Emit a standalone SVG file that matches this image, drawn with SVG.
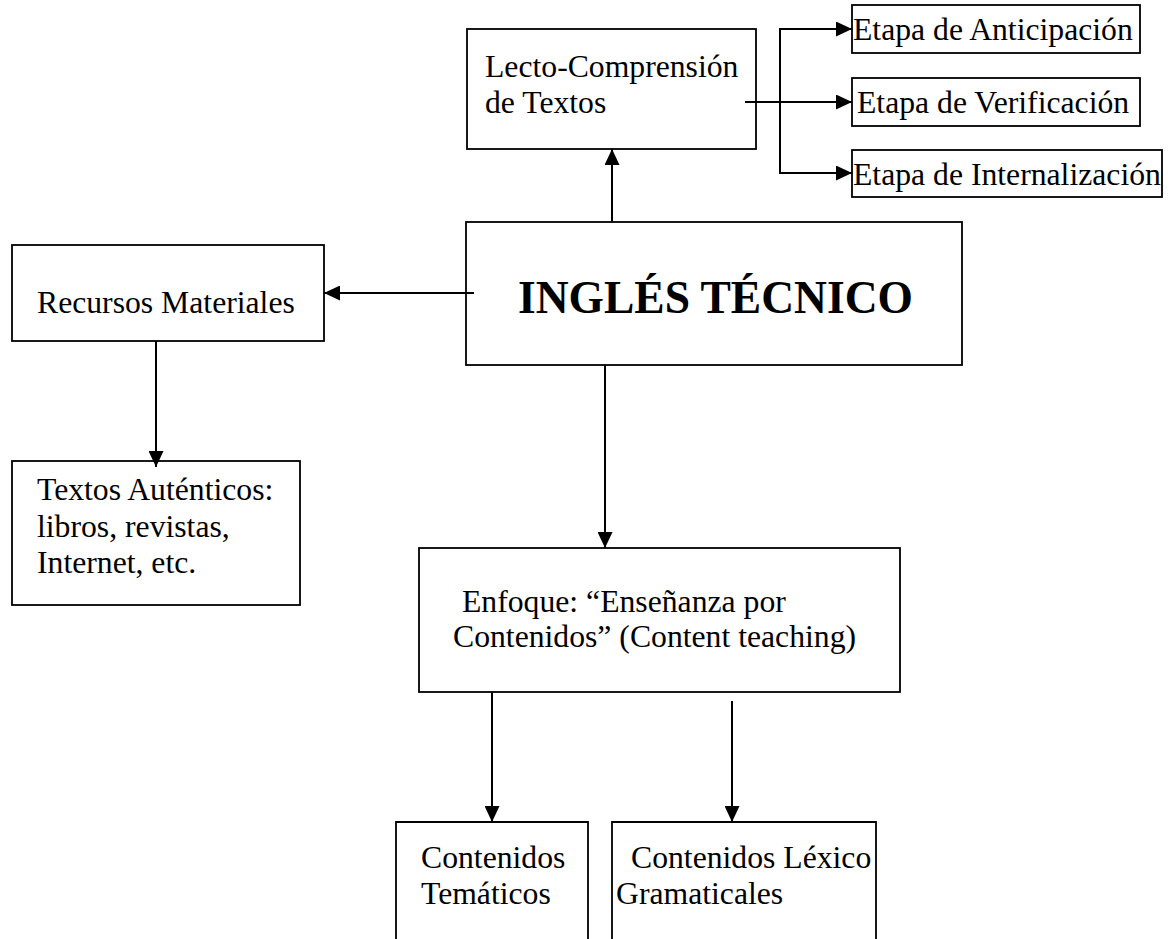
<svg xmlns="http://www.w3.org/2000/svg" width="1170" height="939" viewBox="0 0 1170 939">
<style>
.box{fill:#fff;stroke:#000;stroke-width:1.8}
.open{fill:none;stroke:#000;stroke-width:1.8}
.t{font-family:"Liberation Serif","Times New Roman",serif;font-size:31.7px;fill:#000}
.big{font-family:"Liberation Serif","Times New Roman",serif;font-size:45.5px;font-weight:bold;fill:#000}
.c{fill:none;stroke:#000;stroke-width:2}
.a{marker-end:url(#arr)}
</style>
<defs>
<marker id="arr" viewBox="0 0 16 15" refX="16" refY="7.5" markerWidth="16" markerHeight="15" markerUnits="userSpaceOnUse" orient="auto">
<path d="M0,0 L16,7.5 L0,15 Z" fill="#000"/>
</marker>
</defs>
<rect width="1170" height="939" fill="#fff"/>
<g id="lecto"><rect class="box" x="467" y="29" width="289" height="120"/>
<text class="t" x="485" y="77">Lecto-Comprensión</text><text class="t" x="485" y="113">de Textos</text></g>
<g id="anticipacion"><rect class="box" x="852" y="5" width="288" height="48"/><text class="t" x="853" y="40">Etapa de Anticipación</text></g>
<g id="verificacion"><rect class="box" x="852" y="78" width="288" height="48"/><text class="t" x="857" y="113">Etapa de Verificación</text></g>
<g id="internalizacion"><rect class="box" x="852" y="150" width="310" height="47"/><text class="t" x="853" y="185">Etapa de Internalización</text></g>
<g id="ingles"><rect class="box" x="466" y="222" width="496" height="143"/><text class="big" x="518" y="313">INGLÉS TÉCNICO</text></g>
<g id="recursos"><rect class="box" x="12" y="245" width="312" height="96"/><text class="t" x="37" y="313">Recursos Materiales</text></g>
<g id="textos"><rect class="box" x="12" y="461" width="288" height="144"/>
<text class="t" x="37" y="500">Textos Auténticos:</text><text class="t" x="37" y="537">libros, revistas,</text><text class="t" x="37" y="573">Internet, etc.</text></g>
<g id="enfoque"><rect class="box" x="419" y="548" width="481" height="144"/>
<text class="t" x="462" y="612">Enfoque: “Enseñanza por</text><text class="t" x="453" y="647">Contenidos” (Content teaching)</text></g>
<g id="tematicos"><path class="open" d="M396,940 V822 H588 V940"/>
<text class="t" x="421" y="868">Contenidos</text><text class="t" x="421" y="904">Temáticos</text></g>
<g id="lexico"><path class="open" d="M612,940 V822 H876 V940"/>
<text class="t" x="631" y="868">Contenidos Léxico</text><text class="t" x="616" y="904">Gramaticales</text></g>
<g id="connectors">
<path class="c a" d="M612,222 V149"/>
<path class="c a" d="M745,102 H852"/>
<path class="c a" d="M852,29 H780 V173 H852"/>
<path class="c a" d="M780,29 H852"/>
<path class="c a" d="M474,293 H324"/>
<path class="c a" d="M156,341 V467"/>
<path class="c a" d="M605,365 V548"/>
<path class="c a" d="M492,692 V822"/>
<path class="c a" d="M732,701 V822"/>
</g>
</svg>
